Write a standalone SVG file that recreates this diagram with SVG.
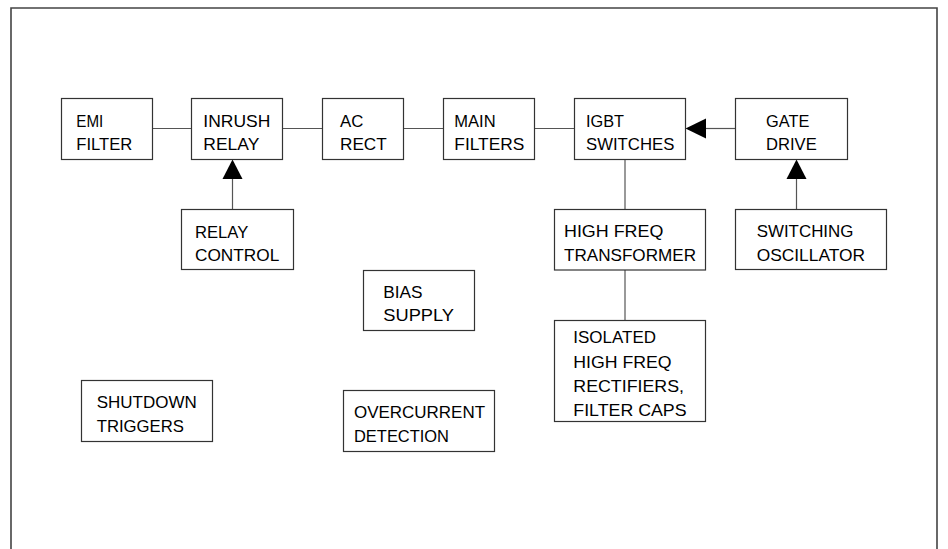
<svg xmlns="http://www.w3.org/2000/svg" width="948" height="549" viewBox="0 0 948 549">
<style>
.box{fill:#fff;stroke:#333;stroke-width:1.2}
.t{font-family:"Liberation Sans",Arial,sans-serif;font-size:16.5px;fill:#000}
.c{stroke:#555;stroke-width:1.2;fill:none}
.ah{fill:#000;stroke:none}
.frame{fill:none;stroke:#444;stroke-width:1.6}
</style>
<rect width="948" height="549" fill="#fff"/>
<path class="frame" d="M11,549 V8 H937 V549"/>
<g id="connectors">
<line class="c" x1="152.5" y1="128.5" x2="191.5" y2="128.5"/>
<line class="c" x1="282.5" y1="128.5" x2="322.5" y2="128.5"/>
<line class="c" x1="403.5" y1="128.5" x2="443.5" y2="128.5"/>
<line class="c" x1="534.5" y1="128.5" x2="574.5" y2="128.5"/>
<line class="c" x1="706" y1="128.5" x2="735.5" y2="128.5"/>
<polygon class="ah" points="685.5,128.5 706,118.5 706,138.5"/>
<line class="c" x1="232.5" y1="179" x2="232.5" y2="209.5"/>
<polygon class="ah" points="232.5,159.5 222.5,179 242.5,179"/>
<line class="c" x1="796.5" y1="179" x2="796.5" y2="209.5"/>
<polygon class="ah" points="796.5,159.5 786.5,179 806.5,179"/>
<line class="c" x1="625" y1="159.5" x2="625" y2="209.5"/>
<line class="c" x1="625" y1="270" x2="625" y2="320.5"/>
</g>
<g id="emi-filter"><rect class="box" x="61.5" y="98.5" width="91" height="61"/>
<text class="t" x="76.3" y="127" textLength="27" lengthAdjust="spacingAndGlyphs">EMI</text>
<text class="t" x="76.3" y="150" textLength="56" lengthAdjust="spacingAndGlyphs">FILTER</text></g>
<g id="inrush-relay"><rect class="box" x="191.5" y="98.5" width="91" height="61"/>
<text class="t" x="203.3" y="127" textLength="67" lengthAdjust="spacingAndGlyphs">INRUSH</text>
<text class="t" x="203.3" y="150" textLength="56" lengthAdjust="spacingAndGlyphs">RELAY</text></g>
<g id="ac-rect"><rect class="box" x="322.5" y="98.5" width="81" height="61"/>
<text class="t" x="340" y="127" textLength="23.3" lengthAdjust="spacingAndGlyphs">AC</text>
<text class="t" x="340" y="150" textLength="46.7" lengthAdjust="spacingAndGlyphs">RECT</text></g>
<g id="main-filters"><rect class="box" x="443.5" y="98.5" width="91" height="61"/>
<text class="t" x="454.3" y="127" textLength="41.3" lengthAdjust="spacingAndGlyphs">MAIN</text>
<text class="t" x="454.3" y="150" textLength="70" lengthAdjust="spacingAndGlyphs">FILTERS</text></g>
<g id="igbt-switches"><rect class="box" x="574.5" y="98.5" width="111" height="61"/>
<text class="t" x="586" y="127" textLength="38" lengthAdjust="spacingAndGlyphs">IGBT</text>
<text class="t" x="586" y="150" textLength="88.3" lengthAdjust="spacingAndGlyphs">SWITCHES</text></g>
<g id="gate-drive"><rect class="box" x="735.5" y="98.5" width="112" height="61"/>
<text class="t" x="766" y="127" textLength="43.3" lengthAdjust="spacingAndGlyphs">GATE</text>
<text class="t" x="766" y="150" textLength="50.7" lengthAdjust="spacingAndGlyphs">DRIVE</text></g>
<g id="relay-control"><rect class="box" x="181.5" y="209.5" width="112" height="60"/>
<text class="t" x="195" y="237.5" textLength="53.3" lengthAdjust="spacingAndGlyphs">RELAY</text>
<text class="t" x="195" y="260.5" textLength="84.3" lengthAdjust="spacingAndGlyphs">CONTROL</text></g>
<g id="high-freq-transformer"><rect class="box" x="554.5" y="209.5" width="151" height="60.5"/>
<text class="t" x="564" y="237.3" textLength="99.3" lengthAdjust="spacingAndGlyphs">HIGH FREQ</text>
<text class="t" x="564" y="260.8" textLength="132" lengthAdjust="spacingAndGlyphs">TRANSFORMER</text></g>
<g id="switching-oscillator"><rect class="box" x="735.5" y="209.5" width="151" height="60"/>
<text class="t" x="756.7" y="237.3" textLength="96.7" lengthAdjust="spacingAndGlyphs">SWITCHING</text>
<text class="t" x="756.7" y="260.5" textLength="108.3" lengthAdjust="spacingAndGlyphs">OSCILLATOR</text></g>
<g id="bias-supply"><rect class="box" x="363.5" y="270.5" width="111" height="60"/>
<text class="t" x="383.3" y="297.5" textLength="39.3" lengthAdjust="spacingAndGlyphs">BIAS</text>
<text class="t" x="383.3" y="320.7" textLength="70.7" lengthAdjust="spacingAndGlyphs">SUPPLY</text></g>
<g id="isolated-rectifiers"><rect class="box" x="554.5" y="320.5" width="151" height="101"/>
<text class="t" x="573.3" y="343.3" textLength="82.7" lengthAdjust="spacingAndGlyphs">ISOLATED</text>
<text class="t" x="573.3" y="367.5" textLength="98.3" lengthAdjust="spacingAndGlyphs">HIGH FREQ</text>
<text class="t" x="573.3" y="391.7" textLength="110.7" lengthAdjust="spacingAndGlyphs">RECTIFIERS,</text>
<text class="t" x="573.3" y="415.5" textLength="113.3" lengthAdjust="spacingAndGlyphs">FILTER CAPS</text></g>
<g id="shutdown-triggers"><rect class="box" x="81.5" y="380.5" width="131" height="61"/>
<text class="t" x="96.7" y="408.3" textLength="100" lengthAdjust="spacingAndGlyphs">SHUTDOWN</text>
<text class="t" x="96.7" y="432.3" textLength="87.3" lengthAdjust="spacingAndGlyphs">TRIGGERS</text></g>
<g id="overcurrent-detection"><rect class="box" x="343.5" y="390.5" width="151" height="61"/>
<text class="t" x="354" y="418.3" textLength="131" lengthAdjust="spacingAndGlyphs">OVERCURRENT</text>
<text class="t" x="354" y="442.3" textLength="95" lengthAdjust="spacingAndGlyphs">DETECTION</text></g>
</svg>
